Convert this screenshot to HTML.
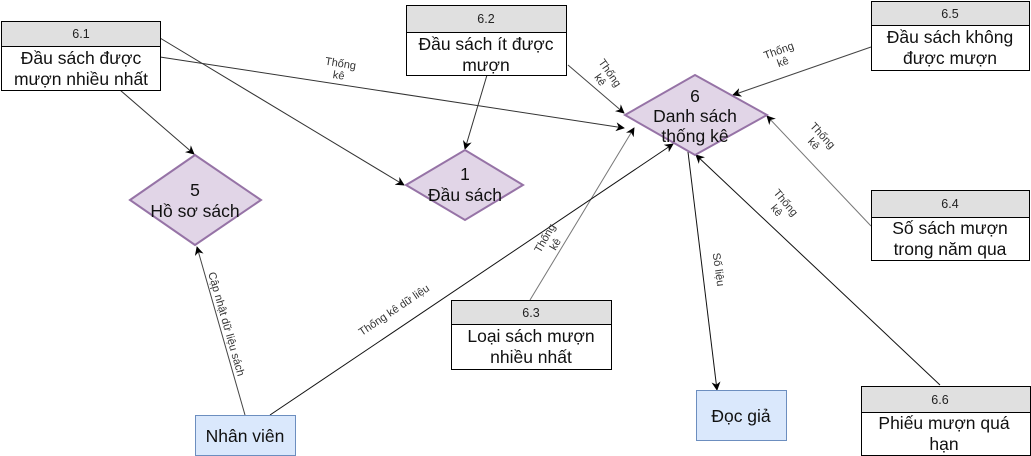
<!DOCTYPE html>
<html><head><meta charset="utf-8"><style>
html,body{margin:0;padding:0;background:#fff;}
svg{display:block;font-family:"Liberation Sans",Arial,sans-serif;}
</style></head><body>
<svg width="1031" height="456" viewBox="0 0 1031 456" xmlns="http://www.w3.org/2000/svg">
<defs>
<marker id="a" viewBox="0 0 10 10" refX="9" refY="5" markerWidth="9" markerHeight="9" orient="auto-start-reverse" markerUnits="userSpaceOnUse">
<path d="M0,0 L10,5 L0,10 L3,5 z" fill="#000"/></marker>
</defs>
<g fill="none" stroke-width="1">
<line x1="160" y1="57" x2="624" y2="128" stroke="#333" marker-end="url(#a)"/>
<line x1="160" y1="38" x2="404" y2="185" stroke="#333" marker-end="url(#a)"/>
<line x1="120" y1="90" x2="194" y2="154" stroke="#333" marker-end="url(#a)"/>
<line x1="487" y1="75" x2="465" y2="149" stroke="#333" marker-end="url(#a)"/>
<line x1="568" y1="65" x2="624" y2="113" stroke="#444" marker-end="url(#a)"/>
<line x1="871" y1="47" x2="733" y2="95" stroke="#444" marker-end="url(#a)"/>
<line x1="871" y1="226" x2="767" y2="116" stroke="#777" marker-end="url(#a)"/>
<line x1="940" y1="385" x2="696" y2="155" stroke="#111" marker-end="url(#a)"/>
<line x1="530" y1="300" x2="634" y2="128" stroke="#777" marker-end="url(#a)"/>
<line x1="270" y1="415" x2="673" y2="144" stroke="#111" marker-end="url(#a)"/>
<line x1="245" y1="415" x2="197" y2="247" stroke="#444" marker-end="url(#a)"/>
<line x1="688" y1="152" x2="717" y2="390" stroke="#111" marker-end="url(#a)"/>
</g>
<g font-size="11" fill="#333" text-anchor="middle">
<text transform="translate(340,67) rotate(9)"><tspan x="0" y="0">Thống</tspan><tspan x="0" y="12">kê</tspan></text>
<text transform="translate(607,75) rotate(55)"><tspan x="0" y="0">Thống</tspan><tspan x="0" y="12">kê</tspan></text>
<text transform="translate(780,54) rotate(-20)"><tspan x="0" y="0">Thống</tspan><tspan x="0" y="12">kê</tspan></text>
<text transform="translate(820,138) rotate(47)"><tspan x="0" y="0">Thống</tspan><tspan x="0" y="12">kê</tspan></text>
<text transform="translate(783,205) rotate(50)"><tspan x="0" y="0">Thống</tspan><tspan x="0" y="12">kê</tspan></text>
<text transform="translate(548,240) rotate(-60)"><tspan x="0" y="0">Thống</tspan><tspan x="0" y="12">kê</tspan></text>
<text transform="translate(396,313) rotate(-34)">Thống kê dữ liệu</text>
<text transform="translate(223,325) rotate(74)">Cập nhật dữ liệu sách</text>
<text transform="translate(715,270) rotate(82)">Số liệu</text>
</g>
<g fill="#e1d5e7" stroke="#9673a6" stroke-width="2">
<polygon points="625,115 695,75 767,115 695,155"/>
<polygon points="406,185 465,150 523,185 465,220"/>
<polygon points="130,200 195,155 261,200 195,245"/>
</g>
<g font-size="17.5" fill="#111" text-anchor="middle">
<text x="695" y="102">6</text><text x="695" y="122">Danh sách</text><text x="695" y="142">thống kê</text>
<text x="465" y="180">1</text><text x="465" y="201">Đầu sách</text>
<text x="195" y="196">5</text><text x="195" y="217">Hồ sơ sách</text>
</g>
<g stroke="#6c8ebf" fill="#dae8fc"><rect x="195.5" y="415.5" width="100" height="40"/><rect x="696.5" y="390.5" width="90" height="50"/></g>
<g font-size="17.5" fill="#111" text-anchor="middle">
<text x="245" y="442">Nhân viên</text><text x="741" y="422">Đọc giả</text>
</g>
<g stroke="#000" stroke-width="1">
<rect x="1.5" y="21.5" width="159" height="25" fill="#e0e0e0"/><rect x="1.5" y="46.5" width="159" height="44" fill="#fff"/>
<rect x="406.5" y="5.5" width="160" height="27" fill="#e0e0e0"/><rect x="406.5" y="32.5" width="160" height="43" fill="#fff"/>
<rect x="871.5" y="1.5" width="158" height="24" fill="#e0e0e0"/><rect x="871.5" y="25.5" width="158" height="45" fill="#fff"/>
<rect x="871.5" y="190.5" width="158" height="27" fill="#e0e0e0"/><rect x="871.5" y="217.5" width="158" height="43" fill="#fff"/>
<rect x="451.5" y="300.5" width="160" height="24" fill="#e0e0e0"/><rect x="451.5" y="324.5" width="160" height="45" fill="#fff"/>
<rect x="861.5" y="386.5" width="169" height="26" fill="#e0e0e0"/><rect x="861.5" y="412.5" width="169" height="43" fill="#fff"/>
</g>
<g font-size="12.5" fill="#222" text-anchor="middle">
<text x="81" y="38">6.1</text><text x="486" y="23">6.2</text><text x="950" y="18">6.5</text>
<text x="950" y="208">6.4</text><text x="531" y="317">6.3</text><text x="940" y="404">6.6</text>
</g>
<g font-size="17.5" fill="#111" text-anchor="middle">
<text x="81" y="64">Đầu sách được</text><text x="81" y="85">mượn nhiều nhất</text>
<text x="486" y="50">Đầu sách ít được</text><text x="486" y="71">mượn</text>
<text x="950" y="43">Đầu sách không</text><text x="950" y="64">được mượn</text>
<text x="950" y="234">Số sách mượn</text><text x="950" y="255">trong năm qua</text>
<text x="531" y="342">Loại sách mượn</text><text x="531" y="363">nhiều nhất</text>
<text x="944" y="429">Phiếu mượn quá</text><text x="944" y="450">hạn</text>
</g>
</svg>
</body></html>
